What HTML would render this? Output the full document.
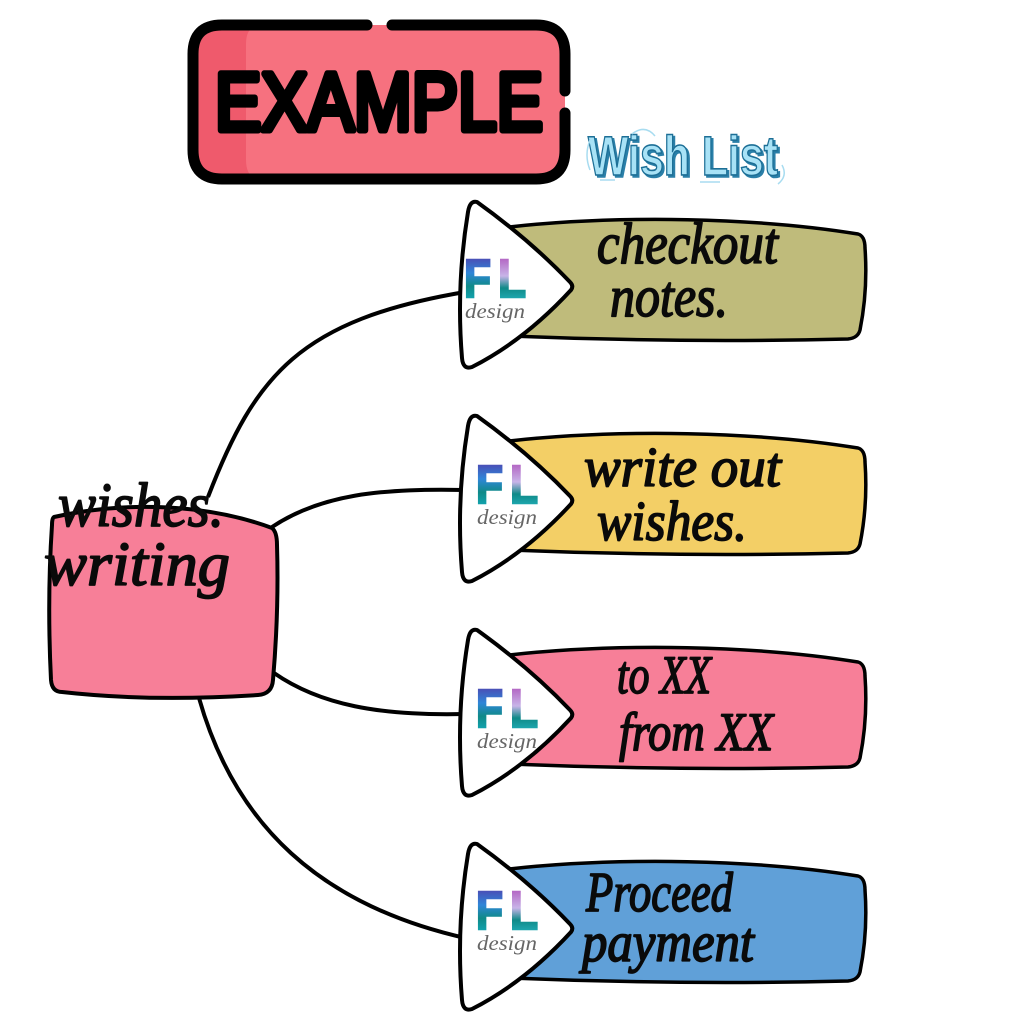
<!DOCTYPE html>
<html><head><meta charset="utf-8"><style>
html,body{margin:0;padding:0;background:#fff}svg{display:block}
.s{font-family:"Liberation Serif",serif;font-style:italic;font-weight:400;fill:#0a0a0a;stroke:#0a0a0a;stroke-width:1.7;stroke-linejoin:round}
.fl{font-family:"Liberation Sans",sans-serif;font-weight:700;font-size:54px;stroke-width:2.5}
.d{font-family:"Liberation Serif",serif;font-style:italic;font-size:21px;fill:#666}
</style></head><body>
<svg width="1024" height="1024" viewBox="0 0 1024 1024" xmlns="http://www.w3.org/2000/svg">
<defs>
<linearGradient id="g" x1="0" y1="0" x2="0" y2="1"><stop offset="0" stop-color="#5b2aa0"/><stop offset=".4" stop-color="#2f86d8"/><stop offset=".62" stop-color="#0f8a88"/><stop offset="1" stop-color="#14b6cc"/></linearGradient>
<linearGradient id="h" x1="0" y1="0" x2="0" y2="1"><stop offset="0" stop-color="#a83cb0"/><stop offset=".45" stop-color="#c8b4e8"/><stop offset=".65" stop-color="#0f8a88"/><stop offset="1" stop-color="#2cc4d4"/></linearGradient>
</defs>

<!-- Example badge -->
<path d="M370 25H222Q193 25 193 54V150Q193 179 222 179H536Q565 179 565 150V54Q565 25 536 25Z" fill="#f6717f"/>
<path d="M222 25Q193 25 193 54V150Q193 179 222 179H256Q246 175 246 160V44Q246 29 256 25Z" fill="#ef5a6c"/>
<path d="M367 25H222Q193 25 193 54V150Q193 179 222 179H536Q565 179 565 150V113M565 91V54Q565 25 536 25H392" fill="none" stroke="#000" stroke-width="11" stroke-linecap="round"/>
<text x="215" y="130" font-family="Liberation Sans,sans-serif" font-weight="400" font-size="82" textLength="328" lengthAdjust="spacingAndGlyphs" fill="#000" stroke="#000" stroke-width="7" stroke-linejoin="round" stroke-linecap="round">EXAMPLE</text>

<!-- Wish List -->
<text x="588" y="175" font-family="Liberation Sans,sans-serif" font-weight="700" font-size="56" textLength="190" lengthAdjust="spacingAndGlyphs" fill="#a8e2f6" stroke="#1d6f96" stroke-width="1.6" style="filter:drop-shadow(2px 2px 0 #2a7fa8)">Wish List</text>
<g fill="none" stroke="#a8dcf0" stroke-width="1.5">
<path d="M632 134Q645 124 655 136"/><path d="M590 140Q584 155 590 170"/><path d="M782 165Q788 176 778 184"/><path d="M600 180H615M700 182H720"/>
</g>

<!-- connectors -->
<g fill="none" stroke="#000" stroke-width="4">
<path d="M208 497C255 375 300 320 465 292"/>
<path d="M272 527C320 495 380 488 465 490"/>
<path d="M274 673C320 705 380 716 465 714"/>
<path d="M199 698C235 825 320 905 465 938"/>
</g>

<!-- left node -->
<path d="M54 517C130 500 210 505 272 528Q277 532 277 545Q279 610 273 680Q272 694 258 695Q150 702 62 692Q52 692 51 680Q47 600 52 525Q52 518 54 517Z" fill="#f77f98" stroke="#000" stroke-width="4"/>
<text class="s" x="58" y="526" font-size="62" textLength="166" lengthAdjust="spacingAndGlyphs">wishes.</text>
<text class="s" x="44" y="585" font-size="62" textLength="186" lengthAdjust="spacingAndGlyphs">writing</text>

<!-- bars -->
<g stroke="#000" stroke-width="3.5">
<path d="M500 228C620 214 760 218 858 234Q865 236 865 248Q868 290 860 330Q858 338 848 339Q680 343 510 336Z" fill="#bfbb7b"/>
<path d="M500 442C620 428 760 432 858 448Q865 450 865 462Q868 504 860 544Q858 552 848 553Q680 557 510 550Z" fill="#f3cf66"/>
<path d="M500 656C620 642 760 646 858 662Q865 664 865 676Q868 718 860 758Q858 766 848 767Q680 771 510 764Z" fill="#f77f98"/>
<path d="M500 870C620 856 760 860 858 876Q865 878 865 890Q868 932 860 972Q858 980 848 981Q680 985 510 978Z" fill="#60a0d8"/>
</g>

<!-- triangles -->
<g fill="#fff" stroke="#000" stroke-width="4" stroke-linejoin="round">
<path d="M477 202Q470 200 468 212Q456 285 462 358Q463 370 472 367Q525 340 571 290Q574 286 570 282Q530 240 477 202Z"/>
<path d="M477 416Q470 414 468 426Q456 499 462 572Q463 584 472 581Q525 554 571 504Q574 500 570 496Q530 454 477 416Z"/>
<path d="M477 630Q470 628 468 640Q456 713 462 786Q463 798 472 795Q525 768 571 718Q574 714 570 710Q530 668 477 630Z"/>
<path d="M477 844Q470 842 468 854Q456 927 462 1000Q463 1012 472 1009Q525 982 571 932Q574 928 570 924Q530 882 477 844Z"/>
</g>

<!-- logos -->
<g>
<text class="fl" x="464" y="297" fill="url(#g)" stroke="url(#g)" textLength="27" lengthAdjust="spacingAndGlyphs">F</text>
<text class="fl" x="498" y="297" fill="url(#h)" stroke="url(#h)" textLength="28" lengthAdjust="spacingAndGlyphs">L</text>
<text class="d" x="465" y="318" textLength="60" lengthAdjust="spacingAndGlyphs">design</text>
<text class="fl" x="476" y="503" fill="url(#g)" stroke="url(#g)" textLength="27" lengthAdjust="spacingAndGlyphs">F</text>
<text class="fl" x="510" y="503" fill="url(#h)" stroke="url(#h)" textLength="28" lengthAdjust="spacingAndGlyphs">L</text>
<text class="d" x="477" y="524" textLength="60" lengthAdjust="spacingAndGlyphs">design</text>
<text class="fl" x="476" y="727" fill="url(#g)" stroke="url(#g)" textLength="27" lengthAdjust="spacingAndGlyphs">F</text>
<text class="fl" x="510" y="727" fill="url(#h)" stroke="url(#h)" textLength="28" lengthAdjust="spacingAndGlyphs">L</text>
<text class="d" x="477" y="748" textLength="60" lengthAdjust="spacingAndGlyphs">design</text>
<text class="fl" x="476" y="929" fill="url(#g)" stroke="url(#g)" textLength="27" lengthAdjust="spacingAndGlyphs">F</text>
<text class="fl" x="510" y="929" fill="url(#h)" stroke="url(#h)" textLength="28" lengthAdjust="spacingAndGlyphs">L</text>
<text class="d" x="477" y="950" textLength="60" lengthAdjust="spacingAndGlyphs">design</text>
</g>

<!-- bar labels -->
<text class="s" x="597" y="263" font-size="58" textLength="181" lengthAdjust="spacingAndGlyphs">checkout</text>
<text class="s" x="610" y="316" font-size="58" textLength="118" lengthAdjust="spacingAndGlyphs">notes.</text>
<text class="s" x="584" y="486" font-size="56" textLength="197" lengthAdjust="spacingAndGlyphs">write out</text>
<text class="s" x="597" y="540" font-size="56" textLength="150" lengthAdjust="spacingAndGlyphs">wishes.</text>
<text class="s" x="617" y="693" font-size="54" textLength="94" lengthAdjust="spacingAndGlyphs">to XX</text>
<text class="s" x="619" y="750" font-size="54" textLength="154" lengthAdjust="spacingAndGlyphs">from XX</text>
<text class="s" x="586" y="911" font-size="56" textLength="147" lengthAdjust="spacingAndGlyphs">Proceed</text>
<text class="s" x="582" y="961" font-size="56" textLength="172" lengthAdjust="spacingAndGlyphs">payment</text>
</svg>
</body></html>
